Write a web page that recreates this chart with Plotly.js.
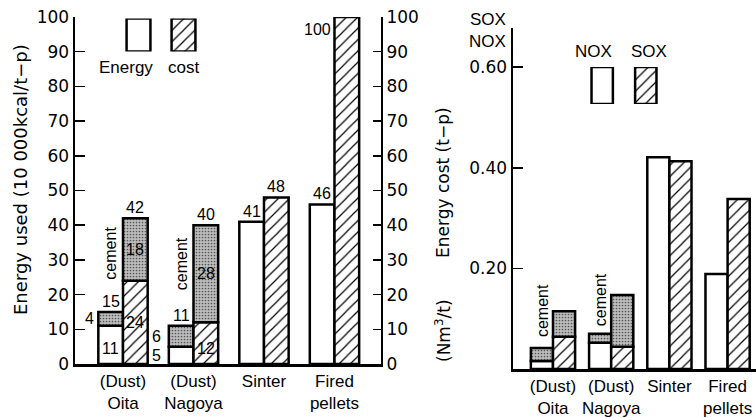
<!DOCTYPE html>
<html>
<head>
<meta charset="utf-8">
<script src="https://cdn.plot.ly/plotly-3.0.1.min.js"></script>
<style>html,body{margin:0;padding:0;background:#fff;}#chart{width:756px;height:418px;}</style>
</head>
<body>
<div id="chart"></div>
<script>
// ---------- data ----------
const categories = ['(Dust)<br>Oita', '(Dust)<br>Nagoya', 'Sinter', 'Fired<br>pellets'];
// left chart: energy used (10 000 kcal/t-p) and energy cost (index)
const energyBase   = [11, 5, 41, 46];
const energyCement = [4, 6, null, null];
const costBase     = [24, 12, 48, 100];
const costCement   = [18, 28, null, null];
// right chart: NOX and SOX (Nm3/t)
const noxBase   = [0.016, 0.052, 0.421, 0.189];
const noxCement = [0.026, 0.018, null, null];
const soxBase   = [0.064, 0.044, 0.413, 0.338];
const soxCement = [0.051, 0.103, null, null];
const leftTicks = [0, 10, 20, 30, 40, 50, 60, 70, 80, 90, 100];
const rightTickVals = [0.2, 0.4, 0.6];
const rightTickText = ['0.20', '0.40', '0.60'];
const legendLeft = ['Energy', 'cost'];
const legendRight = ['NOX', 'SOX'];

// ---------- styles ----------
const FONT = 'Liberation Sans, Arial, sans-serif';
const FONT2 = 'DejaVu Sans, sans-serif';
const W = 756, H = 418;
const px = v => v / W, py = v => 1 - v / H;
const idx = categories.map((c, i) => i);
const LW = 2.5;
const plain = {color: 'white', line: {color: 'black', width: LW}};
const hatch = {color: 'white', line: {color: 'black', width: LW},
  pattern: {shape: '/', fgcolor: 'black', bgcolor: 'white', size: 8, solidity: 0.15}};
const stip = {color: '#bdbdbd', line: {color: 'black', width: LW},
  pattern: {shape: '.', fgcolor: '#555', bgcolor: '#bdbdbd', size: 3, solidity: 0.25}};

const bw = 0.35, bw2 = 0.38;
function bar(x, y, base, xa, ya, w, off, marker) {
  const t = {type: 'bar', x: x, y: y, xaxis: xa, yaxis: ya, width: w, offset: off,
    marker: marker, showlegend: false, hoverinfo: 'skip'};
  if (base) t.base = base;
  return t;
}
const traces = [
  bar(idx, energyBase, null, 'x', 'y', bw, -bw, plain),
  bar(idx, energyCement, energyBase, 'x', 'y', bw, -bw, stip),
  bar(idx, costBase, null, 'x', 'y2', bw, 0, hatch),
  bar(idx, costCement, costBase, 'x', 'y2', bw, 0, stip),
  bar(idx, noxBase, null, 'x2', 'y3', bw2, -bw2, plain),
  bar(idx, noxCement, noxBase, 'x2', 'y3', bw2, -bw2, stip),
  bar(idx, soxBase, null, 'x2', 'y3', bw2, 0, hatch),
  bar(idx, soxCement, soxBase, 'x2', 'y3', bw2, 0, stip),
  // legend glyphs as mini bar charts
  {type: 'bar', x: [0, 1], y: [1, 1], xaxis: 'x3', yaxis: 'y4', width: 0.53, showlegend: false, hoverinfo: 'skip',
   marker: {color: 'white', line: {color: 'black', width: LW},
     pattern: {shape: ['', '/'], fgcolor: 'black', bgcolor: 'white', size: 8, solidity: 0.15}}},
  {type: 'bar', x: [0, 1], y: [1, 1], xaxis: 'x4', yaxis: 'y5', width: 0.49, showlegend: false, hoverinfo: 'skip',
   marker: {color: 'white', line: {color: 'black', width: LW},
     pattern: {shape: ['', '/'], fgcolor: 'black', bgcolor: 'white', size: 8, solidity: 0.15}}}
];

// ---------- annotations ----------
const tf = {family: FONT, size: 16, color: 'black'};
const anns = [];
function lab(x, y, text, o) {
  anns.push(Object.assign({xref: 'x', yref: 'y', x: x, y: y, text: String(text), showarrow: false,
    font: tf, xanchor: 'center', yanchor: 'middle'}, o || {}));
}
const h = bw / 2;
// Oita
lab(0 - h, 4.6, energyBase[0]);
lab(0 - bw, energyBase[0] + energyCement[0] / 2, energyCement[0], {xanchor: 'right', xshift: -2});
lab(0 - h, energyBase[0] + energyCement[0], energyBase[0] + energyCement[0], {yanchor: 'bottom'});
lab(0 + h, costBase[0] / 2, costBase[0]);
lab(0 + h, costBase[0] + costCement[0] / 2, costCement[0]);
lab(0 + h, costBase[0] + costCement[0], costBase[0] + costCement[0], {yanchor: 'bottom'});
lab(0 - h, 32, 'cement', {textangle: -90});
// Nagoya
lab(1 - bw, energyBase[1] + energyCement[1] / 2, energyCement[1], {xanchor: 'right', xshift: -6});
lab(1 - bw, energyBase[1] / 2, energyBase[1], {xanchor: 'right', xshift: -6});
lab(1 - h, energyBase[1] + energyCement[1], energyBase[1] + energyCement[1], {yanchor: 'bottom'});
lab(1 + h, 4.6, costBase[1]);
lab(1 + h, costBase[1] + costCement[1] / 2, costCement[1]);
lab(1 + h, costBase[1] + costCement[1], costBase[1] + costCement[1], {yanchor: 'bottom'});
lab(1 - h, 28.8, 'cement', {textangle: -90});
// Sinter, Fired pellets
lab(2 - h, energyBase[2], energyBase[2], {yanchor: 'bottom'});
lab(2 + h, costBase[2], costBase[2], {yanchor: 'bottom'});
lab(3 - h, energyBase[3], energyBase[3], {yanchor: 'bottom'});
lab(3, costBase[3], costBase[3], {xanchor: 'right', yanchor: 'top', xshift: -1, yshift: -2});
// right chart cement labels
anns.push({xref: 'x2', yref: 'y3', x: 0 - bw2 / 2, y: 0.117, text: 'cement', textangle: -90, showarrow: false, font: tf});
anns.push({xref: 'x2', yref: 'y3', x: 1 - bw2 / 2, y: 0.137, text: 'cement', textangle: -90, showarrow: false, font: tf});
// axis titles and legend text (paper)
function pap(x, y, text, o) {
  anns.push(Object.assign({xref: 'paper', yref: 'paper', x: px(x), y: py(y), text: text, showarrow: false,
    font: {family: FONT, size: 17, color: 'black'}, xanchor: 'center', yanchor: 'middle'}, o || {}));
}
pap(20, 180, 'Energy used (10 000kcal/t\u2212p)', {textangle: -90, font: {family: FONT2, size: 18, color: 'black'}});
pap(443, 182, 'Energy cost (t\u2212p)', {textangle: -90, font: {family: FONT2, size: 17, color: 'black'}});
pap(443, 330, '(Nm<sup>3</sup>/t)', {textangle: -90, font: {family: FONT2, size: 17, color: 'black'}});
pap(508, 30, 'SOX<br>NOX', {xanchor: 'right', align: 'right'});
pap(126, 68, legendLeft[0]);
pap(183.5, 68, legendLeft[1]);
pap(593, 52, legendRight[0]);
pap(649, 52, legendRight[1]);

// ---------- layout ----------
const tickFont = {family: FONT, size: 17, color: 'black'};
const numFont = {family: FONT2, size: 17, color: 'black'};
const hidden = {visible: false, fixedrange: true};
const layout = {
  width: W, height: H,
  margin: {l: 0, r: 0, t: 0, b: 0},
  paper_bgcolor: 'white', plot_bgcolor: 'rgba(0,0,0,0)',
  barmode: 'overlay',
  font: {family: FONT, color: 'black'},
  xaxis: {domain: [px(75), px(381)], range: [-0.681, 3.66], anchor: 'y',
    tickvals: idx, ticktext: categories, ticks: '', showline: true, linewidth: LW, linecolor: 'black',
    showgrid: false, zeroline: false, tickfont: tickFont},
  yaxis: {domain: [1 - 364 / H, 1 - 17 / H], range: [0, 100], anchor: 'x',
    tickvals: leftTicks, ticks: 'inside', ticklen: 10, tickwidth: 1.5, tickcolor: 'black',
    showline: true, linewidth: LW, linecolor: 'black', showgrid: false, zeroline: false, tickfont: numFont},
  yaxis2: {overlaying: 'y', side: 'right', anchor: 'x', range: [0, 100],
    tickvals: leftTicks, ticks: 'inside', ticklen: 8, tickwidth: 1.5, tickcolor: 'black',
    showline: true, linewidth: 2, linecolor: 'black', showgrid: false, zeroline: false, tickfont: numFont},
  xaxis2: {domain: [px(513), 1], range: [-0.687, 3.488], anchor: 'y3',
    tickvals: idx, ticktext: categories, ticks: '', showline: true, linewidth: LW, linecolor: 'black',
    showgrid: false, zeroline: false, tickfont: tickFont},
  yaxis3: {domain: [1 - 369 / H, 1 - 28 / H], range: [0, 0.678], anchor: 'x2',
    tickvals: rightTickVals, ticktext: rightTickText, ticks: 'inside', ticklen: 10, tickwidth: 1.5, tickcolor: 'black',
    showline: true, linewidth: LW, linecolor: 'black', showgrid: false, zeroline: false, tickfont: numFont},
  xaxis3: Object.assign({domain: [px(116), px(206)], range: [-0.5, 1.5], anchor: 'y4'}, hidden),
  yaxis4: Object.assign({domain: [1 - 51.5 / H, 1 - 18.5 / H], range: [0, 1], anchor: 'x3'}, hidden),
  xaxis4: Object.assign({domain: [px(580.4), px(667.6)], range: [-0.5, 1.5], anchor: 'y5'}, hidden),
  yaxis5: Object.assign({domain: [1 - 104 / H, 1 - 67 / H], range: [0, 1], anchor: 'x4'}, hidden),
  annotations: anns
};
Plotly.newPlot('chart', traces, layout, {staticPlot: true, displayModeBar: false});
</script>
</body>
</html>
